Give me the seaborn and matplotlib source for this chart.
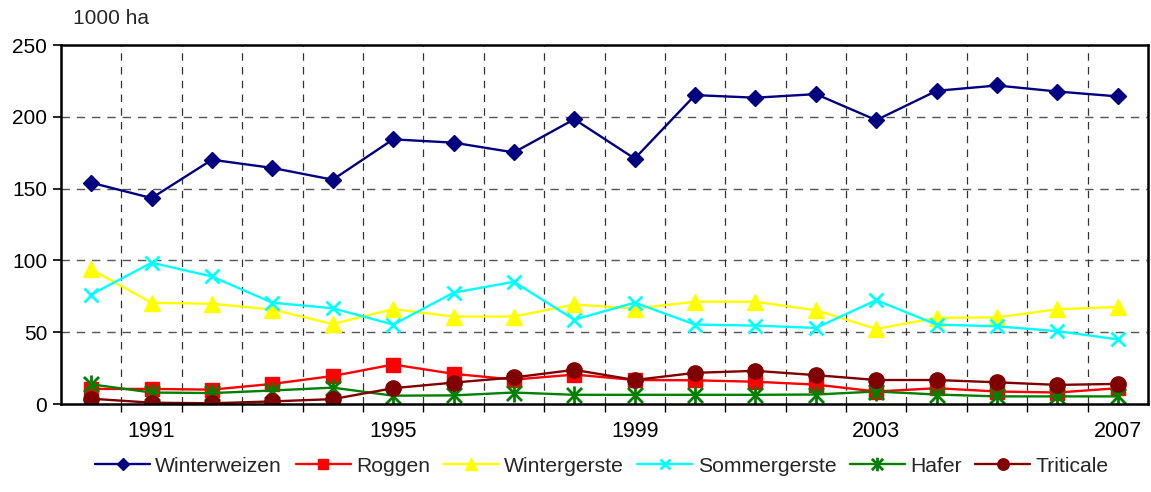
import numpy as np
import pandas as pd
import matplotlib
matplotlib.use("Agg")
import matplotlib.pyplot as plt
import seaborn as sns
from matplotlib.path import Path
from matplotlib.ticker import FixedLocator

years = list(range(1990, 2008))
winterweizen = [154.1, 143.4, 170.1, 164.4, 156.2, 184.3, 182.0, 175.2, 198.3, 170.9,
                215.1, 213.3, 215.8, 197.7, 218.1, 221.8, 217.6, 214.2]
roggen = [10.5, 10.5, 10.0, 14.0, 19.5, 27.5, 21.0, 17.0, 20.5, 16.7,
          16.5, 15.5, 13.5, 8.7, 11.0, 8.7, 8.0, 11.0]
wintergerste = [93.8, 70.5, 69.8, 65.8, 55.7, 66.1, 60.9, 60.9, 69.3, 66.5,
                71.2, 71.2, 65.3, 52.3, 60.0, 60.3, 66.0, 67.5]
sommergerste = [76.2, 98.4, 88.8, 70.5, 66.7, 55.3, 77.5, 85.1, 58.7, 70.6,
                55.3, 54.6, 53.0, 72.3, 55.3, 54.1, 50.7, 45.0]
hafer = [13.7, 8.0, 7.6, 9.4, 11.4, 5.8, 6.0, 8.0, 6.4, 6.4,
         6.4, 6.4, 6.6, 8.7, 6.6, 5.3, 5.3, 5.3]
triticale = [3.7, 0.9, 0.5, 1.8, 3.4, 11.0, 14.9, 18.5, 23.8, 16.7,
             21.7, 23.1, 20.1, 16.7, 16.7, 15.1, 13.3, 14.0]
series_names = ["Winterweizen", "Roggen", "Wintergerste", "Sommergerste", "Hafer", "Triticale"]
tick_years = [1991, 1995, 1999, 2003, 2007]
y_ticks = [0, 50, 100, 150, 200, 250]
unit_label = "1000 ha"

values = [winterweizen, roggen, wintergerste, sommergerste, hafer, triticale]
df = pd.DataFrame({
    "year": np.tile(years, len(series_names)),
    "value": np.concatenate(values),
    "crop": np.repeat(series_names, len(years)),
})

sns.set_theme(style="white")
plt.rcParams["font.family"] = ["Liberation Sans", "DejaVu Sans"]

star = Path([(-1, -1), (1, 1), (-1, 1), (1, -1), (0, -1.2), (0, 1.2)],
            [Path.MOVETO, Path.LINETO, Path.MOVETO, Path.LINETO, Path.MOVETO, Path.LINETO])

styles = {
    "Winterweizen": dict(color="#000080", marker="D", markersize=8.5),
    "Roggen": dict(color="#FF0000", marker="s", markersize=10.5),
    "Wintergerste": dict(color="#FFFF00", marker="^", markersize=11),
    "Sommergerste": dict(color="#00FFFF", marker="x", markersize=10.5, markeredgewidth=2),
    "Hafer": dict(color="#008000", marker=star, markersize=13, markeredgewidth=2),
    "Triticale": dict(color="#800000", marker="o", markersize=11),
}

fig = plt.figure(figsize=(11.51, 4.92), dpi=100)
ax = fig.add_axes([61 / 1151, 1 - 404 / 492, (1148 - 61) / 1151, (404 - 45) / 492])

for name in series_names:
    st = dict(styles[name])
    color = st.pop("color")
    st.setdefault("markeredgewidth", 1)
    sns.lineplot(data=df[df["crop"] == name], x="year", y="value", ax=ax,
                 color=color, markeredgecolor=color, markerfacecolor=color,
                 linewidth=1.7, label=name, **st)

ax.set_xlim(1989.5, 2007.5)
ax.set_ylim(0, 250)
ax.set_xlabel("")
ax.set_ylabel("")
ax.xaxis.set_major_locator(FixedLocator(tick_years))
ax.xaxis.set_minor_locator(FixedLocator(np.arange(1990.5, 2007.5, 1.0)))
ax.set_yticks(y_ticks)
ax.tick_params(axis="x", which="major", length=0, pad=12, labelsize=15.5, colors="black")
ax.tick_params(axis="x", which="minor", length=6, width=1, bottom=True, color="black")
ax.tick_params(axis="y", which="major", length=6, width=1.2, left=True, pad=4,
               labelsize=15, colors="black")

ax.grid(False)
ax.xaxis.grid(True, which="minor", linestyle=(0, (6, 5)), color="#333333", linewidth=0.9)
for yv in y_ticks[1:-1]:
    ax.axhline(yv, linestyle=(0, (6, 5)), color="#555555", linewidth=1.0, zorder=0.5)
ax.set_axisbelow(True)

for side in ["left", "bottom", "top", "right"]:
    ax.spines[side].set_visible(True)
    ax.spines[side].set_color("black")
    ax.spines[side].set_linewidth(1.8)

ax.get_legend().remove()
handles, labels = ax.get_legend_handles_labels()
fig.legend(handles, labels, loc="center", bbox_to_anchor=(0.523, 1 - 466 / 492), ncol=6,
           frameon=False, fontsize=15.2, handlelength=2.6, handletextpad=0.25,
           columnspacing=0.65, markerscale=0.75)

fig.text(73 / 1151, 1 - 18 / 492, unit_label, fontsize=15, va="center", ha="left")

fig.savefig("out.png", dpi=100)
